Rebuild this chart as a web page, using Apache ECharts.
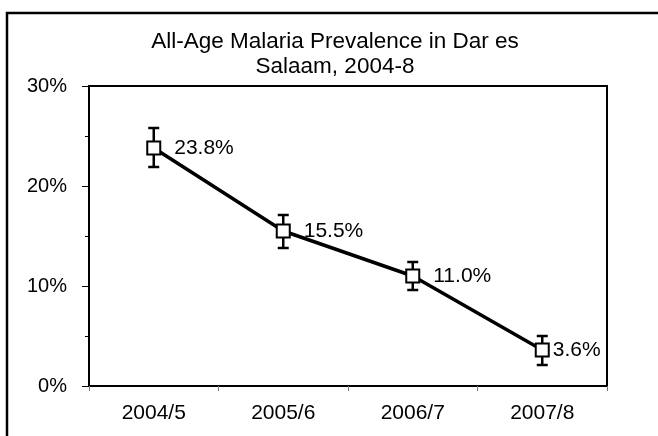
<!DOCTYPE html>
<html>
<head>
<meta charset="utf-8">
<script src="https://cdn.jsdelivr.net/npm/echarts@6/dist/echarts.min.js"></script>
<style>
  html, body { margin: 0; padding: 0; background: #fff; }
  #chart { width: 658px; height: 436px; }
</style>
</head>
<body>
<div id="chart"></div>
<script>
// survey rounds and all-age prevalence (%)
const periods = ['2004/5', '2005/6', '2006/7', '2007/8']
const prevalence = [23.8, 15.5, 11.0, 3.6]
// 95% CI
const ciLow = [21.9, 13.8, 9.6, 2.1]
const ciHigh = [25.8, 17.1, 12.4, 5.0]

const chart = echarts.init(document.getElementById('chart'))
const font = 'Liberation Sans, Arial, sans-serif'

const option = {
  animation: false,
  title: {
    text: 'All-Age Malaria Prevalence in Dar es\nSalaam, 2004-8',
    left: 330,
    top: 24,
    textAlign: 'center',
    textStyle: {
      fontFamily: font,
      fontSize: 22.5,
      fontWeight: 'normal',
      color: '#000',
      lineHeight: 25
    }
  },
  // outer frame, cut off at the right and bottom like the source
  graphic: [{
    type: 'rect',
    shape: { x: 7, y: 13, width: 700, height: 460 },
    style: { fill: 'none', stroke: '#000', lineWidth: 2.5 },
    silent: true
  }],
  grid: {
    left: 89,
    top: 86,
    right: 51,
    bottom: 50,
    show: true,
    borderColor: '#000',
    borderWidth: 2
  },
  xAxis: {
    type: 'category',
    data: periods,
    boundaryGap: true,
    axisLine: { lineStyle: { color: '#000', width: 2 } },
    axisTick: { show: true, length: 5, lineStyle: { color: '#777' } },
    axisLabel: { color: '#000', fontFamily: font, fontSize: 21, margin: 17 }
  },
  yAxis: {
    type: 'value',
    min: 0,
    max: 30,
    interval: 10,
    splitLine: { show: false },
    axisLine: { show: true, lineStyle: { color: '#000', width: 2 } },
    axisTick: { show: true, length: 7, lineStyle: { color: '#000' } },
    minorTick: { show: true, splitNumber: 2, length: 4, lineStyle: { color: '#000' } },
    axisLabel: {
      color: '#000',
      fontFamily: font,
      fontSize: 20,
      margin: 22,
      formatter: v => v + '%'
    }
  },
  series: [
    {
      type: 'custom',
      z: 3,
      renderItem: (params, api) => {
        const x = api.value(0)
        const lo = api.coord([x, api.value(1)])
        const hi = api.coord([x, api.value(2)])
        const cap = 5.5
        const st = { stroke: '#000', lineWidth: 2.5 }
        return {
          type: 'group',
          children: [
            { type: 'line', shape: { x1: lo[0], y1: lo[1], x2: hi[0], y2: hi[1] }, style: st },
            { type: 'line', shape: { x1: lo[0] - cap, y1: lo[1], x2: lo[0] + cap, y2: lo[1] }, style: st },
            { type: 'line', shape: { x1: hi[0] - cap, y1: hi[1], x2: hi[0] + cap, y2: hi[1] }, style: st }
          ]
        }
      },
      data: periods.map((p, i) => [i, ciLow[i], ciHigh[i]])
    },
    {
      type: 'line',
      z: 4,
      data: prevalence.map((v, i) => ({
        value: v,
        label: { distance: i === prevalence.length - 1 ? 3 : 13 }
      })),
      lineStyle: { color: '#000', width: 3.5 },
      symbol: 'rect',
      symbolSize: 13,
      itemStyle: { color: '#fff', borderColor: '#000', borderWidth: 2 },
      label: {
        show: true,
        position: 'right',
        color: '#000',
        fontFamily: font,
        fontSize: 21,
        formatter: p => p.value.toFixed(1) + '%'
      }
    }
  ]
}

chart.setOption(option)
</script>
</body>
</html>
